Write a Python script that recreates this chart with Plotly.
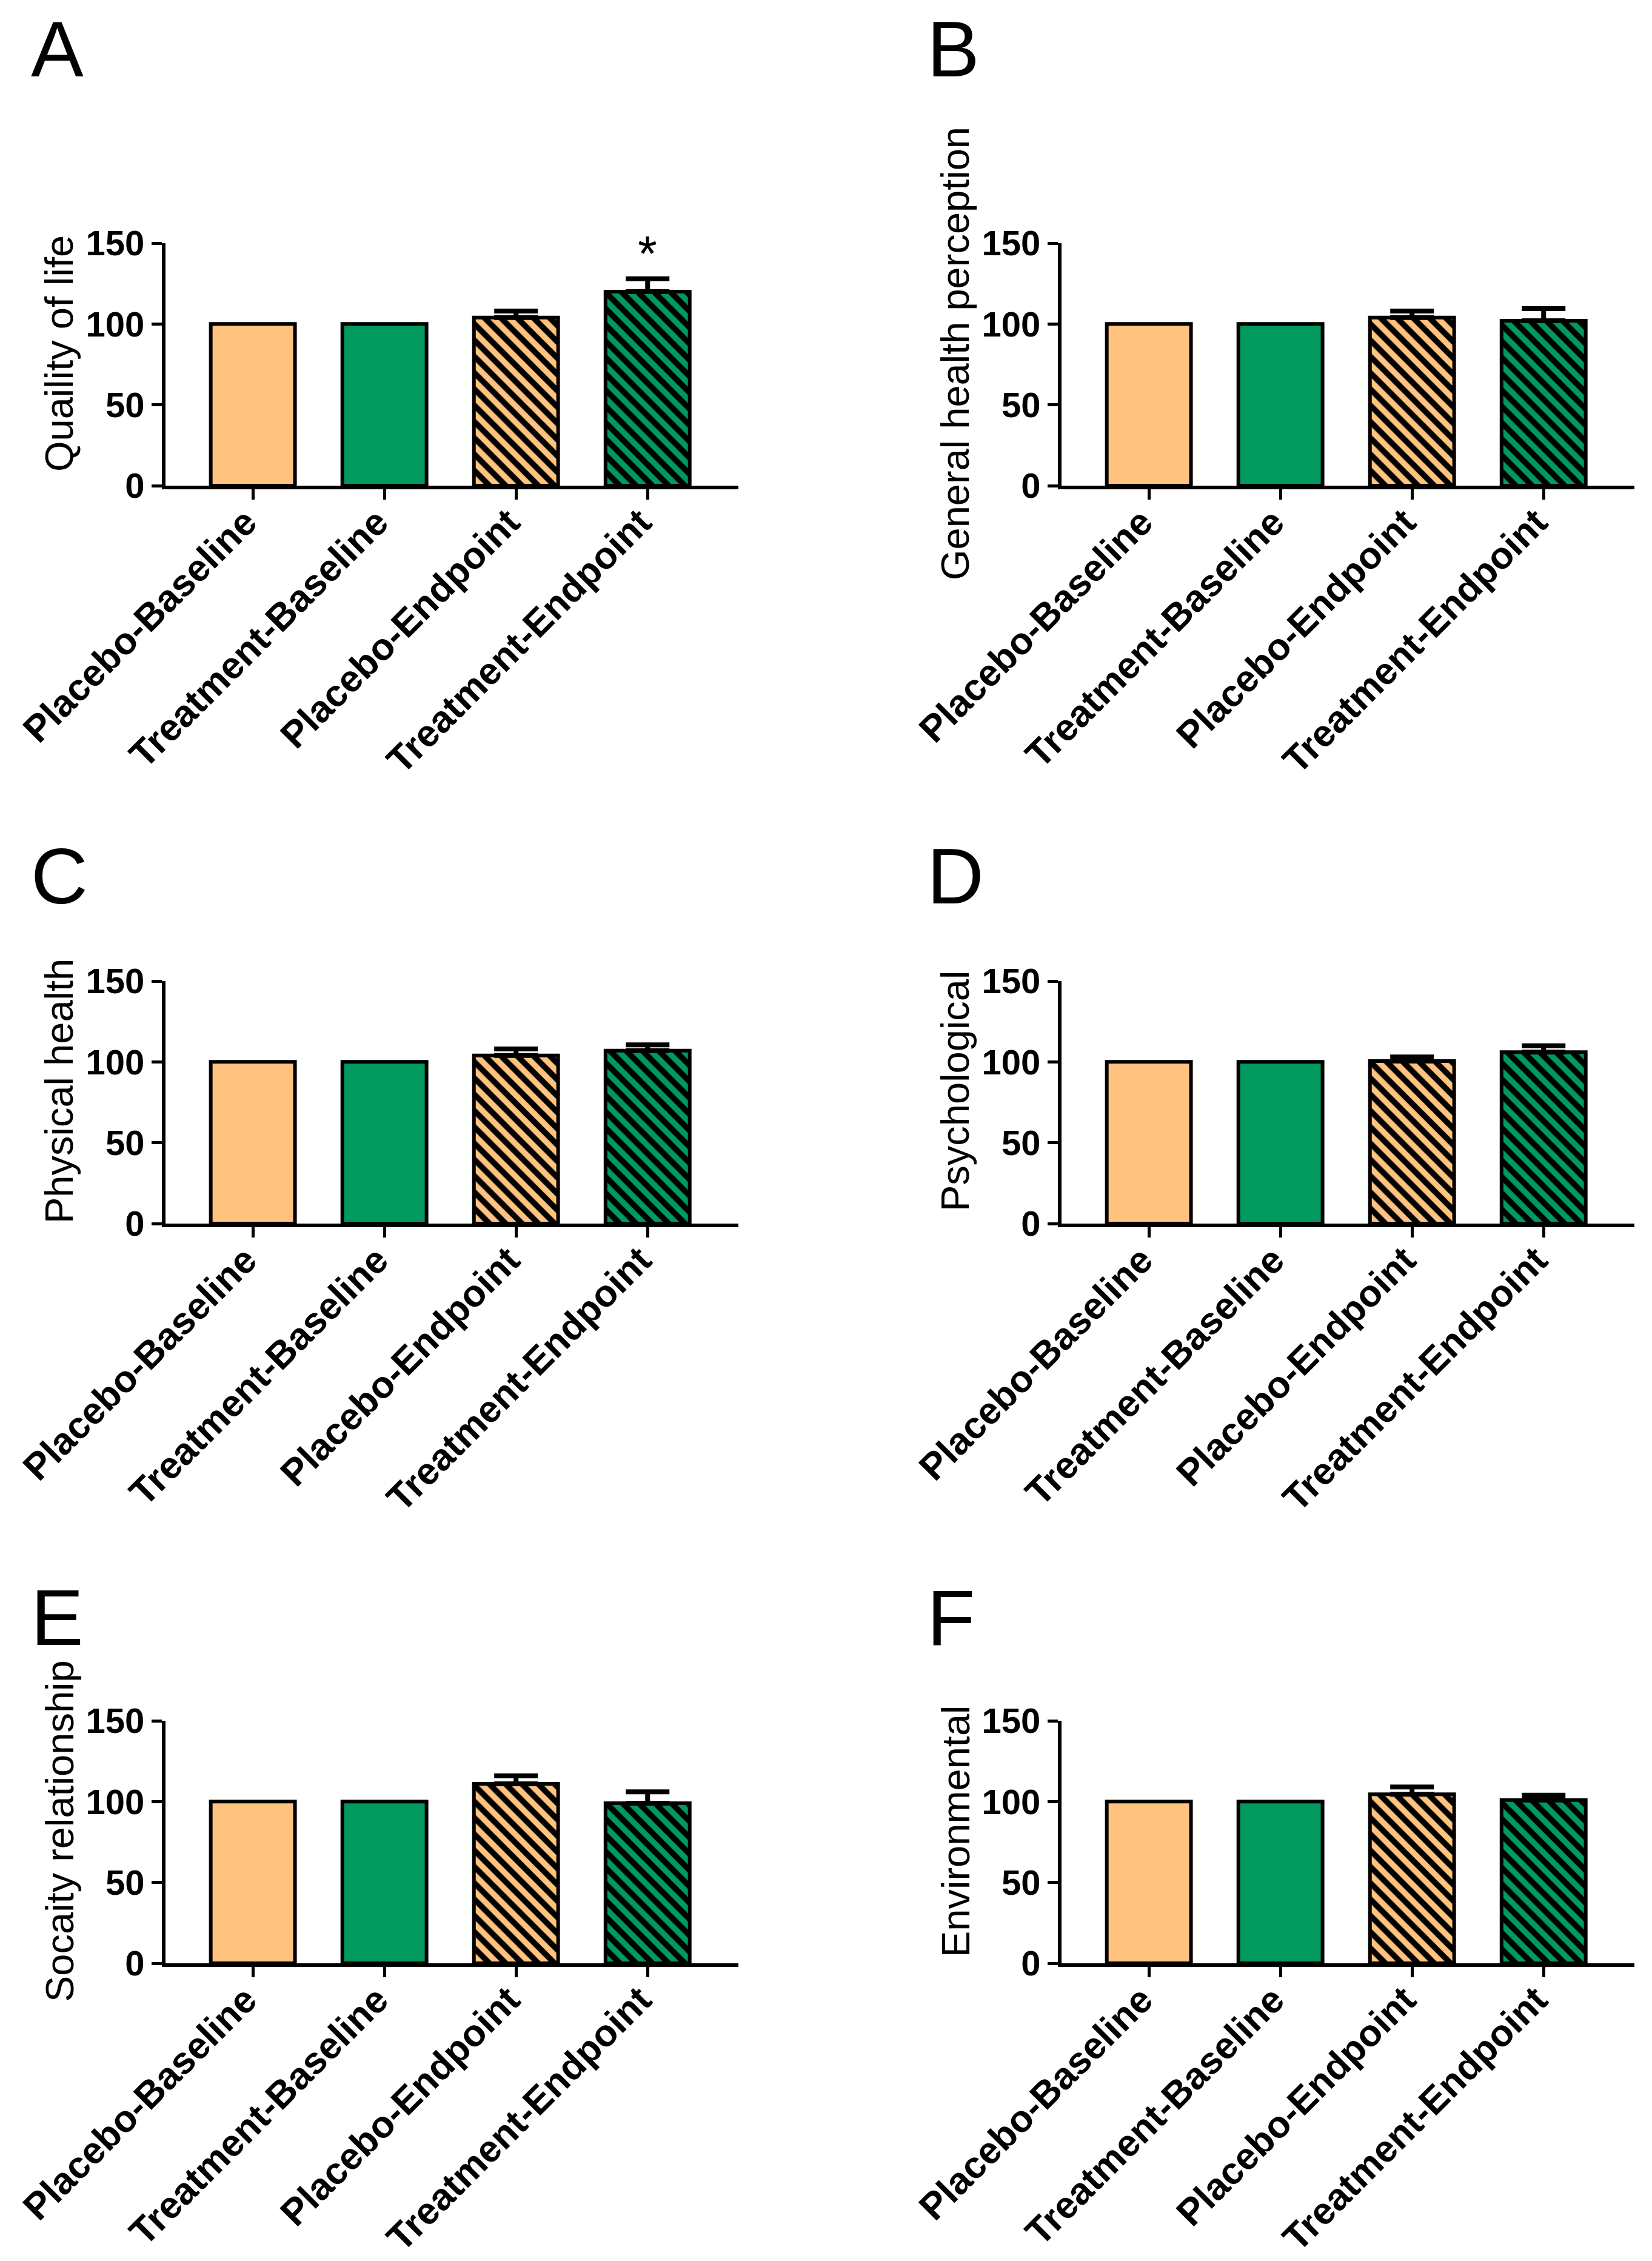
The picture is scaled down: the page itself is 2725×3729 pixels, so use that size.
import plotly.graph_objects as go

W, H = 2725, 3729

categories = ["Placebo-Baseline", "Treatment-Baseline", "Placebo-Endpoint", "Treatment-Endpoint"]
bar_colors = ["#FFC27F", "#00995E", "#FFC27F", "#00995E"]
bar_patterns = ["", "", "\\", "\\"]
y_ticks = [0, 50, 100, 150]

panel_letters = ["A", "B", "C", "D", "E", "F"]
y_titles = ["Quaility of life", "General health perception", "Physical health",
            "Psychological", "Socaity relationship", "Environmental"]

quality_mean = [100, 100, 104, 120]
quality_sem = [None, None, 4, 8]
general_mean = [100, 100, 104, 102]
general_sem = [None, None, 4, 7.5]
physical_mean = [100, 100, 104, 107]
physical_sem = [None, None, 4, 3.5]
psych_mean = [100, 100, 100.5, 106]
psych_sem = [None, None, 2.5, 4]
social_mean = [100, 100, 111, 99]
social_sem = [None, None, 5, 7]
environ_mean = [100, 100, 104.5, 101]
environ_sem = [None, None, 4.5, 3]

panel_means = [quality_mean, general_mean, physical_mean, psych_mean, social_mean, environ_mean]
panel_sems = [quality_sem, general_sem, physical_sem, psych_sem, social_sem, environ_sem]

# significance marks: (panel index, category, text)
signif_marks = [(0, "Treatment-Endpoint", "*")]

# pixel layout of the grid
AX_LEFT = [265, 1743]
AX_W = 945
AX_TOP = [393, 1610, 2830]
AX_H = 400
LETTER_MID = [73, 1437, 2660]
FONT = "Liberation Sans, Arial, sans-serif"


def fx(px):
    return px / W


def fy(px):
    return 1 - px / H


fig = go.Figure()
annotations = []
axes = {}

for i in range(6):
    row, col = divmod(i, 2)
    n = i + 1
    xa = "x" if n == 1 else f"x{n}"
    ya = "y" if n == 1 else f"y{n}"
    left = AX_LEFT[col]
    top = AX_TOP[row]

    # one trace per bar so every bar keeps its own hatch pattern
    for j, cat in enumerate(categories):
        sem = panel_sems[i][j]
        fig.add_trace(go.Bar(
            x=[cat],
            y=[panel_means[i][j]],
            xaxis=xa,
            yaxis=ya,
            width=0.64,
            marker=dict(
                color=bar_colors[j],
                line=dict(color="black", width=6),
                pattern=dict(shape=bar_patterns[j], fillmode="replace",
                             bgcolor=bar_colors[j], fgcolor="black", fgopacity=1,
                             size=19, solidity=0.5),
            ),
            error_y=dict(
                type="data",
                symmetric=False,
                array=[sem],
                arrayminus=[0],
                color="black",
                thickness=8,
                width=36,
                visible=sem is not None,
            ),
            showlegend=False,
        ))

    axes[f"xaxis{'' if n == 1 else n}"] = dict(
        domain=[fx(left), fx(left + AX_W)],
        anchor=ya,
        range=[-0.664, 3.69],
        categoryorder="array", categoryarray=categories,
        automargin=False,
        showline=True, linecolor="black", linewidth=6,
        ticks="outside", ticklen=17, tickwidth=5, tickcolor="black",
        tickangle=-45, ticklabelstandoff=-24, ticklabelshift=-12,
        tickfont=dict(family=FONT, size=62, color="black", weight="bold"),
        showgrid=False, zeroline=False,
    )
    axes[f"yaxis{'' if n == 1 else n}"] = dict(
        domain=[fy(top + AX_H), fy(top)],
        anchor=xa,
        range=[0, 150],
        automargin=False,
        tickvals=y_ticks,
        showline=True, linecolor="black", linewidth=6,
        ticks="outside", ticklen=17, tickwidth=5, tickcolor="black",
        tickfont=dict(family=FONT, size=58, color="black", weight="bold"),
        showgrid=False, zeroline=False,
    )

    annotations.append(dict(
        text=y_titles[i], textangle=-90,
        xref="paper", yref="paper",
        x=fx(left - 175), y=fy(top + AX_H / 2 - 18),
        xanchor="center", yanchor="middle", showarrow=False,
        font=dict(family=FONT, size=65, color="black"),
    ))
    annotations.append(dict(
        text=panel_letters[i],
        xref="paper", yref="paper",
        x=fx(left - 224), y=fy(LETTER_MID[row]),
        xanchor="left", yanchor="middle", showarrow=False,
        font=dict(family=FONT, size=130, color="black"),
    ))

for idx, cat, mark in signif_marks:
    n = idx + 1
    k = categories.index(cat)
    annotations.append(dict(
        text=mark,
        xref="x" if n == 1 else f"x{n}",
        yref="y" if n == 1 else f"y{n}",
        x=cat,
        y=panel_means[idx][k] + panel_sems[idx][k] - 2,
        xanchor="center", yanchor="bottom", showarrow=False,
        font=dict(family=FONT, size=82, color="black"),
    ))

fig.update_layout(
    width=W, height=H,
    autosize=False,
    margin=dict(l=0, r=0, t=0, b=0, autoexpand=False),
    paper_bgcolor="white",
    plot_bgcolor="white",
    barmode="overlay",
    annotations=annotations,
    **axes,
)

fig.write_html("out.html")
